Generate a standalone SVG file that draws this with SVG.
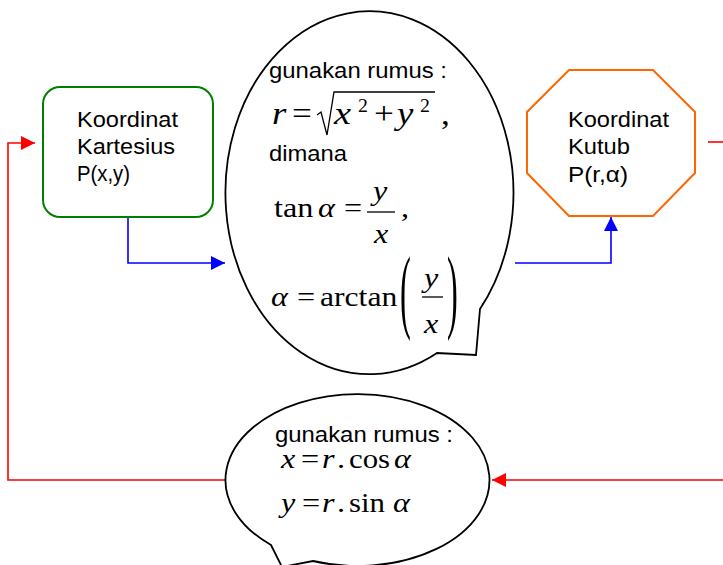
<svg xmlns="http://www.w3.org/2000/svg" width="723" height="565" viewBox="0 0 723 565">
<style>
.lbl{font-family:"Liberation Sans",Arial,sans-serif;font-size:22px;fill:#000}
.m{font-family:"Liberation Serif","Times New Roman",serif;font-size:28px;fill:#000}
.mi{font-family:"Liberation Serif","Times New Roman",serif;font-size:28px;font-style:italic;fill:#000}
.big{font-size:32px}
.sup{font-family:"Liberation Serif","Times New Roman",serif;font-size:18px;fill:#000}
.bub{fill:#fff;stroke:#000;stroke-width:1.8}
.ln{fill:none;stroke:#000;stroke-width:1.3}
.blue{fill:none;stroke:#0000FF;stroke-width:1.6}
.red{fill:none;stroke:#FF0000;stroke-width:1.6}
</style>
<defs>
<marker id="ab" viewBox="0 0 14 14" refX="14" refY="7" markerWidth="14" markerHeight="14" markerUnits="userSpaceOnUse" orient="auto"><path d="M0,0 L14,7 L0,14 Z" fill="#0000FF"/></marker>
<marker id="ar" viewBox="0 0 14 14" refX="14" refY="7" markerWidth="14" markerHeight="14" markerUnits="userSpaceOnUse" orient="auto"><path d="M0,0 L14,7 L0,14 Z" fill="#FF0000"/></marker>
</defs>

<g id="connectors">
<polyline class="blue" points="128,217 128,263 225,263" marker-end="url(#ab)"/>
<polyline class="blue" points="515,263 611,263 611,217" marker-end="url(#ab)"/>
<polyline class="red" points="226,480 8,480 8,143 35,143" marker-end="url(#ar)"/>
<line class="red" x1="708" y1="142" x2="730" y2="142"/>
<polyline class="red" points="730,480 492,480" marker-end="url(#ar)"/>
</g>

<g id="kartesius">
<rect x="43" y="87" width="170" height="130" rx="17" ry="17" fill="#fff" stroke="#008000" stroke-width="2"/>
<text class="lbl" x="77" y="127" textLength="101" lengthAdjust="spacingAndGlyphs">Koordinat</text>
<text class="lbl" x="77" y="154" textLength="98" lengthAdjust="spacingAndGlyphs">Kartesius</text>
<text class="lbl" x="77" y="181" textLength="53" lengthAdjust="spacingAndGlyphs">P(x,y)</text>
</g>

<g id="kutub">
<polygon points="569,70 653,70 695,112 695,173 653,216 569,216 527,173 527,112" fill="#fff" stroke="#FF6600" stroke-width="2"/>
<text class="lbl" x="568" y="127" textLength="101" lengthAdjust="spacingAndGlyphs">Koordinat</text>
<text class="lbl" x="568" y="154" textLength="62" lengthAdjust="spacingAndGlyphs">Kutub</text>
<text class="lbl" x="568" y="182" textLength="60" lengthAdjust="spacingAndGlyphs">P(r,α)</text>
</g>

<g id="rumus-polar">
<path class="bub" d="M476,355 L480,309 A144,181.5 0 1 0 437,353 Z"/>
<text class="lbl" x="269" y="78" textLength="178" lengthAdjust="spacingAndGlyphs">gunakan rumus :</text>
<text class="mi big" transform="translate(272,124) scale(1.15,1)">r</text>
<text class="m big" transform="translate(292,124) scale(1.1,1)">=</text>
<polyline class="ln" points="317,115 321,112 327,135 334,92 435,92"/>
<text class="mi big" transform="translate(334,124) scale(1.2,1)">x</text>
<text class="sup" transform="translate(358,112) scale(1.1,1)">2</text>
<text class="m big" transform="translate(374,124) scale(1.1,1)">+</text>
<text class="mi big" transform="translate(397,124) scale(1.15,1)">y</text>
<text class="sup" transform="translate(420,112) scale(1.1,1)">2</text>
<text class="m big" transform="translate(441,124) scale(1.1,1)">,</text>
<text class="lbl" x="269" y="161" textLength="78" lengthAdjust="spacingAndGlyphs">dimana</text>
<text class="m" transform="translate(274,217) scale(1.15,1)">tan</text>
<text class="mi" transform="translate(318,217) scale(1.15,1)">α</text>
<text class="m" transform="translate(344,217) scale(1.15,1)">=</text>
<line class="ln" x1="367" y1="212" x2="395" y2="212"/>
<text class="mi" transform="translate(373,200) scale(1.15,1)">y</text>
<text class="mi" transform="translate(374,243) scale(1.15,1)">x</text>
<text class="m" transform="translate(401,217) scale(1.15,1)">,</text>
<text class="mi" transform="translate(271,306) scale(1.15,1)">α</text>
<text class="m" transform="translate(297,306) scale(1.15,1)">=</text>
<text class="m" transform="translate(320,306) scale(1.13,1)">arctan</text>
<text class="m" style="font-size:36px" transform="translate(400,320.5) scale(0.9,2.57)">(</text>
<line class="ln" x1="422" y1="297" x2="443" y2="297"/>
<text class="mi" transform="translate(424,287) scale(1.15,1)">y</text>
<text class="mi" transform="translate(424,333) scale(1.15,1)">x</text>
<text class="m" style="font-size:36px" transform="translate(447,320.5) scale(0.9,2.57)">)</text>
</g>

<g id="rumus-kartesius">
<path class="bub" d="M282,567 L313,561 A132,86 0 1 0 271,545 Z"/>
<text class="lbl" x="275" y="442" textLength="178" lengthAdjust="spacingAndGlyphs">gunakan rumus :</text>
<text class="mi" transform="translate(281,468) scale(1.15,1)">x</text>
<text class="m" transform="translate(301,468) scale(1.15,1)">=</text>
<text class="mi" transform="translate(322,468) scale(1.15,1)">r</text>
<text class="m" transform="translate(337,468) scale(1.15,1)">.</text>
<text class="m" transform="translate(349,468) scale(1.1,1)">cos</text>
<text class="mi" transform="translate(394,468) scale(1.15,1)">α</text>
<text class="mi" transform="translate(281,512) scale(1.15,1)">y</text>
<text class="m" transform="translate(302,512) scale(1.15,1)">=</text>
<text class="mi" transform="translate(322,512) scale(1.15,1)">r</text>
<text class="m" transform="translate(337,512) scale(1.15,1)">.</text>
<text class="m" transform="translate(349,512) scale(1.1,1)">sin</text>
<text class="mi" transform="translate(393,512) scale(1.15,1)">α</text>
</g>
</svg>
